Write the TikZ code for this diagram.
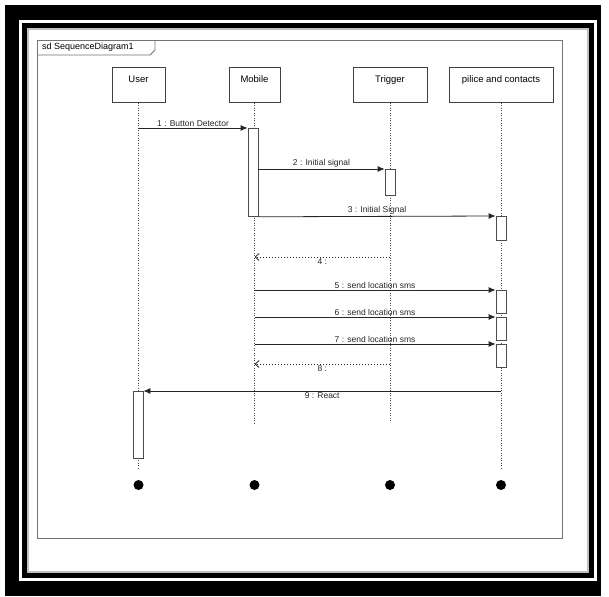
\documentclass[tikz,border=0pt]{standalone}
\usepackage{fontspec}
\setmainfont{Liberation Sans}
\usetikzlibrary{arrows.meta,positioning,calc}

\begin{document}
\begin{tikzpicture}[
  x=1pt, y=-1pt,
  lifebox/.style={draw=black!75, fill=white, line width=0.9pt, anchor=north,
    font=\fontsize{9.5}{10}\selectfont, inner xsep=2pt, inner ysep=4pt,
    text height=11pt, text depth=16pt},
  act/.style={draw=black!70, fill=white, line width=0.8pt, anchor=north,
    minimum width=10pt, inner sep=0pt},
  life/.style={black!70, line width=0.7pt, dash pattern=on 1pt off 1.5pt},
  msg/.style={-{Latex[length=7pt,width=6pt]}, line width=0.8pt, black!85},
  ret/.style={-{Straight Barb[length=4pt,width=7pt]}, line width=0.8pt, black!85,
    dash pattern=on 1.5pt off 1.5pt},
  lbl/.style={font=\fontsize{8.5}{9}\selectfont, inner sep=1.5pt},
  enddot/.style={circle, fill=black, minimum size=10pt, inner sep=0pt}
]
\useasboundingbox (0,0) rectangle (609,596);
\fill[white] (0,0) rectangle (609,596);

% heavy picture border
\fill[black] (5,5) rectangle (601,596);
\fill[white] (19,20) rectangle (597,581);
\draw[line width=5pt] (24.5,25.5) rectangle (591.5,575.5);
\draw[black!25, line width=2pt] (28,29) rectangle (588,572);

% diagram frame
\draw[black!55, line width=0.9pt] (37,40) rectangle (562,538);
\node[anchor=west, font=\fontsize{9}{10}\selectfont, inner sep=1pt] (title) at (41,47.5) {sd SequenceDiagram1};
\draw[black!55, line width=0.9pt] (37,55) -- (150,55) -- (155,50) -- (155,40);

% lifeline heads
\node[lifebox, minimum width=53pt] (user) at (138.5,67) {User};
\node[lifebox, minimum width=51pt] (mobile) at (254.5,67) {Mobile};
\node[lifebox, minimum width=74pt] (trigger) at (390,67) {Trigger};
\node[lifebox, minimum width=104pt] (police) at (501,67) {pilice and contacts};

% lifelines
\draw[life] (user.south) -- (user.south |- 0,468);
\draw[life] (mobile.south) -- (mobile.south |- 0,425);
\draw[life] (trigger.south) -- (trigger.south |- 0,422);
\draw[life] (police.south) -- (police.south |- 0,468);

% activations
\node[act, minimum height=88pt] (a1) at (253,128) {};
\node[act, minimum height=26pt] (a2) at (390,169) {};
\node[act, minimum height=24pt] (a3) at (501,216) {};
\node[act, minimum height=23pt] (a5) at (501,290) {};
\node[act, minimum height=23pt] (a6) at (501,317) {};
\node[act, minimum height=23pt] (a7) at (501,344) {};
\node[act, minimum height=67pt] (a9) at (138,391) {};

\coordinate (r4) at (trigger.south |- 0,257);
\coordinate (r8) at (trigger.south |- 0,364);

% messages
\draw[msg] (user.south |- a1.north) -- node[lbl, above] {1 : Button Detector} (a1.north west);
\draw[msg] (a1.east |- a2.north) -- node[lbl, above] {2 : Initial signal} (a2.north west);
\draw[msg] (a1.south east) -- node[lbl, above] {3 : Initial Signal} (a3.north west);
\draw[ret] (r4) -- node[lbl, below] {4 :} (mobile.south |- r4);
\draw[msg] (mobile.south |- a5.north) -- node[lbl, above] {5 : send location sms} (a5.north west);
\draw[msg] (mobile.south |- a6.north) -- node[lbl, above] {6 : send location sms} (a6.north west);
\draw[msg] (mobile.south |- a7.north) -- node[lbl, above] {7 : send location sms} (a7.north west);
\draw[ret] (r8) -- node[lbl, below] {8 :} (mobile.south |- r8);
\draw[msg] (police.south |- a9.north) -- node[lbl, below] {9 : React} (a9.north east);

% lifeline ends
\node[enddot] (e1) at (user.south |- 0,485) {};
\node[enddot] (e2) at (mobile.south |- 0,485) {};
\node[enddot] (e3) at (trigger.south |- 0,485) {};
\node[enddot] (e4) at (police.south |- 0,485) {};
\end{tikzpicture}
\end{document}
